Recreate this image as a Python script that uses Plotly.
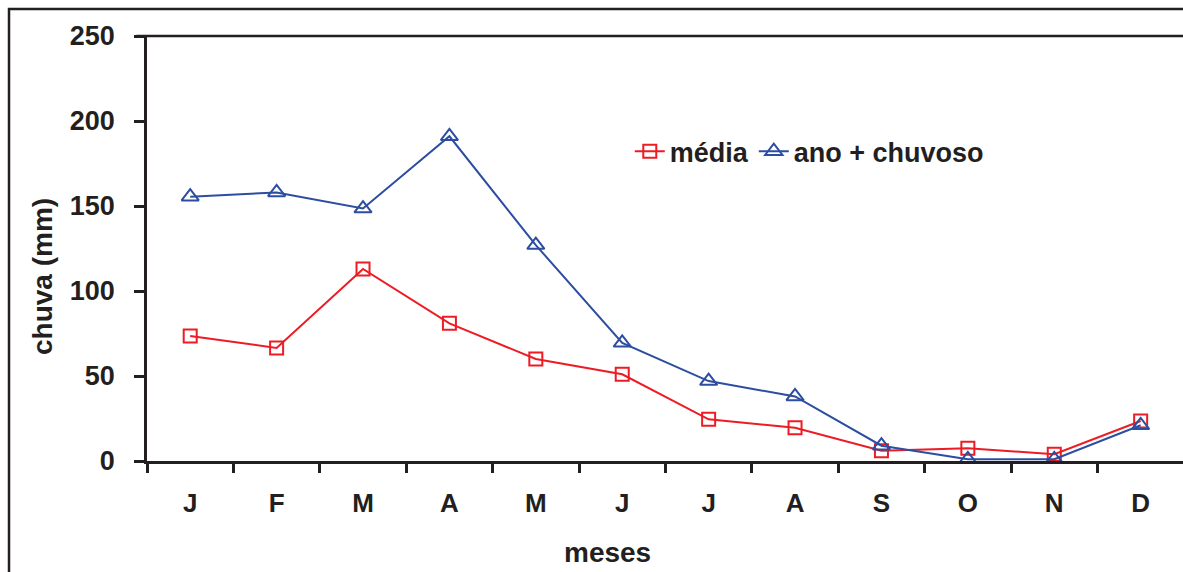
import plotly.graph_objects as go

# Monthly rainfall (mm): average year vs. the rainiest year
meses = ["J", "F", "M", "A", "M", "J", "J", "A", "S", "O", "N", "D"]
media = [73.5, 66.5, 113, 81, 60, 51, 24.5, 19.5, 6, 7.5, 4, 23.5]
ano_chuvoso = [155.5, 158, 148.5, 191, 127, 69.5, 47, 38, 9, 1, 1, 21]
y_ticks = [0, 50, 100, 150, 200, 250]

RED = "#ED1C24"
BLUE = "#2C4DA0"
INK = "#231F20"
FONT = "Liberation Sans, Arial, sans-serif"

idx = list(range(len(meses)))

fig = go.Figure()
fig.add_trace(go.Scatter(
    x=idx, y=media, name="média", mode="lines+markers",
    line=dict(color=RED, width=2),
    marker=dict(symbol="square-open", size=13, color=RED, line=dict(width=2, color=RED)),
))
fig.add_trace(go.Scatter(
    x=idx, y=ano_chuvoso, name="ano + chuvoso", mode="lines+markers",
    line=dict(color=BLUE, width=2),
    marker=dict(symbol="triangle-up-open", size=15, color=BLUE, line=dict(width=2, color=BLUE)),
))

fig.update_layout(
    width=1183, height=572,
    margin=dict(l=147, r=0, t=36, b=111),
    paper_bgcolor="white", plot_bgcolor="white",
    font=dict(family=FONT, color=INK, size=26),
    showlegend=True,
    legend=dict(
        orientation="h", x=0.466, y=0.728, xanchor="left", yanchor="middle",
        bgcolor="rgba(0,0,0,0)", font=dict(size=27, family=FONT, color=INK, weight="bold"),
        tracegroupgap=0,
    ),
    xaxis=dict(
        range=[-0.5, 11.49], tickvals=idx, ticktext=meses,
        showgrid=False, zeroline=False, showline=True, linecolor=INK, linewidth=2.5,
        ticks="", ticklabelstandoff=17,
        tickfont=dict(size=26, family=FONT, color=INK, weight="bold"),
        minor=dict(ticks="outside", tick0=-0.5, dtick=1, ticklen=9, tickwidth=2.5,
                   tickcolor=INK, showgrid=False),
    ),
    yaxis=dict(
        range=[0, 250], tickvals=y_ticks,
        showgrid=False, zeroline=False, showline=True, linecolor=INK, linewidth=2.5,
        ticks="outside", ticklen=10, tickwidth=2.5, tickcolor=INK, ticklabelstandoff=14,
        tickfont=dict(size=27, family=FONT, color=INK, weight="bold"),
    ),
)

# top edge of the plot area
fig.add_shape(type="line", xref="paper", yref="paper", x0=-0.01, x1=1.0, y0=1, y1=1,
              line=dict(color=INK, width=2.5))
# outer chart frame
fig.add_shape(type="rect", xref="paper", yref="paper", x0=-0.1332, x1=1.1, y0=-0.5, y1=1.0635,
              line=dict(color=INK, width=2.5), fillcolor="rgba(0,0,0,0)", layer="below")

# axis titles
fig.add_annotation(text="chuva (mm)", xref="paper", yref="paper",
                   x=(42 - 147) / 1036, y=(461 - 277) / 425, textangle=-90,
                   showarrow=False, xanchor="center", yanchor="middle",
                   font=dict(size=28, family=FONT, color=INK, weight="bold"))
fig.add_annotation(text="meses", xref="paper", yref="paper",
                   x=(607 - 147) / 1036, y=(461 - 552) / 425,
                   showarrow=False, xanchor="center", yanchor="middle",
                   font=dict(size=28, family=FONT, color=INK, weight="bold"))

fig.write_html("out.html")
